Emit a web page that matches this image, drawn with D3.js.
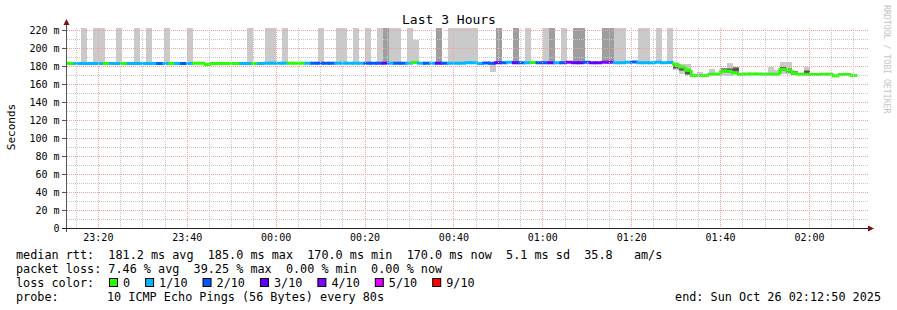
<!DOCTYPE html>
<html>
<head>
<meta charset="UTF-8">
<title>Last 3 Hours</title>
<script src="https://d3js.org/d3.v7.min.js"></script>
<style>
  body { margin: 0; background: #fff; }
  svg text { font-family: "DejaVu Sans Mono", monospace; }
</style>
</head>
<body>
<svg width="897" height="310"></svg>
<script>
// ---------- data ----------
const endTime = Date.UTC(2025, 9, 26, 2, 12, 50);
const stepSec = 80;

// median rtt per 80s step (ms)
const median = [
  184.0, 183.3, 183.3, 183.3, 183.3, 183.3, 183.3, 183.3, 183.3, 183.3,
  183.3, 183.3, 183.3, 183.3, 183.3, 183.3, 183.3, 183.3, 183.3, 183.3,
  183.3, 183.3, 183.5, 183.5, 182.3, 183.3, 183.3, 183.3, 183.3, 183.3,
  183.3, 183.3, 183.3, 183.3, 183.6, 183.6, 183.6, 183.6, 183.6, 183.6,
  183.6, 183.6, 183.6, 183.6, 183.6, 183.6, 183.6, 183.6, 183.6, 183.6,
  183.6, 183.6, 183.6, 183.6, 183.6, 183.6, 183.6, 183.6, 183.6, 184.4,
  183.6, 183.6, 183.6, 183.6, 183.6, 183.6, 183.6, 183.6, 184.3, 184.3,
  183.3, 183.8, 183.5, 184.3, 184.3, 184.6, 184.3, 184.3, 184.3, 184.5,
  184.3, 184.3, 184.3, 184.3, 184.3, 184.6, 184.3, 184.3, 184.6, 184.3,
  184.3, 184.6, 184.6, 184.3, 184.3, 184.6, 185.0, 184.3, 184.3, 184.3,
  184.6, 184.3, 184.4, 182.5, 179.5, 176.2, 170.0, 170.0, 170.0, 171.4,
  171.4, 174.8, 174.8, 172.8, 171.0, 171.7, 171.7, 171.7, 171.5, 171.5,
  171.5, 177.0, 176.0, 172.2, 171.4, 171.4, 171.0, 171.0, 171.3, 171.3,
  169.6, 171.0, 171.0, 170.0
];

// lost pings out of 10 per step
const loss = [
  0, 0, 1, 1, 1, 1, 1, 0, 1, 1,
  0, 1, 1, 1, 1, 1, 2, 1, 0, 1,
  2, 1, 0, 0, 0, 0, 0, 0, 0, 0,
  1, 1, 0, 1, 1, 1, 1, 1, 0, 0,
  0, 1, 2, 2, 2, 2, 1, 1, 1, 1,
  1, 2, 2, 2, 3, 1, 2, 2, 1, 0,
  1, 2, 1, 3, 2, 1, 1, 1, 1, 1,
  1, 2, 2, 3, 2, 1, 3, 2, 1, 0,
  2, 2, 3, 1, 2, 4, 3, 3, 2, 3,
  3, 4, 4, 1, 1, 1, 2, 1, 1, 1,
  1, 1, 1, 0, 0, 0, 0, 0, 0, 0,
  0, 0, 0, 0, 0, 0, 0, 0, 0, 0,
  0, 0, 0, 0, 0, 0, 0, 0, 0, 0,
  0, 0, 0, 0
];

// smoke (ping spread): [step, low ms, high ms]
const smokeLight = [
  [3, 183.3, 240], [5, 183.3, 240], [6, 183.3, 240], [9, 183.3, 240], [12, 183.3, 240],
  [14, 183.3, 240], [17, 183.3, 240], [21, 183.3, 240], [24, 180.5, 182.3], [26, 181.5, 183.3],
  [31, 183.3, 240], [34, 183.6, 240], [35, 183.6, 240], [37, 183.6, 240], [43, 183.6, 240],
  [46, 183.6, 240], [47, 183.6, 240], [49, 183.6, 240], [51, 183.6, 240], [53, 183.6, 240],
  [55, 183.6, 240], [56, 183.6, 240], [58, 183.6, 240], [59, 184.4, 209.5], [65, 183.6, 240],
  [66, 183.6, 240], [67, 183.6, 240], [68, 184.3, 240], [69, 184.3, 240], [72, 174.0, 183.5],
  [78, 184.3, 240], [81, 184.3, 240], [84, 184.3, 240], [93, 184.3, 240], [94, 184.3, 240],
  [97, 184.3, 240], [98, 184.3, 240], [100, 184.6, 240], [102, 184.4, 240],
  [103, 176.0, 183.0], [104, 172.0, 182.5], [105, 170.5, 182.5], [106, 170.0, 172.0],
  [107, 170.0, 174.0], [108, 170.0, 172.0], [109, 171.4, 177.0], [110, 171.4, 172.5],
  [111, 170.0, 178.0], [112, 170.0, 183.6], [113, 172.0, 180.0], [116, 171.7, 173.0],
  [117, 171.7, 173.0], [118, 171.5, 173.0], [119, 172.0, 179.0], [120, 171.5, 176.5],
  [121, 172.0, 184.8], [122, 172.0, 184.8], [123, 172.0, 174.5], [124, 171.4, 173.0],
  [125, 171.0, 180.0], [126, 171.0, 173.0], [127, 171.0, 172.5], [132, 171.0, 172.5]
];
const smokeDark = [
  [54, 183.6, 240], [63, 183.6, 240], [73, 184.3, 240], [76, 184.3, 240], [82, 184.3, 240],
  [86, 184.3, 240], [87, 184.3, 240], [91, 184.6, 240], [92, 184.6, 240],
  [103, 177.0, 182.0], [104, 175.0, 181.0], [105, 171.0, 175.0], [111, 174.8, 178.0],
  [112, 173.0, 178.0], [113, 173.3, 180.0], [121, 175.0, 180.0], [122, 173.0, 178.0],
  [123, 172.0, 174.5], [125, 171.4, 176.0]
];
// densest part of the smoke
const smokeCore = [
  [103, 178.0, 181.0], [104, 176.0, 178.5], [105, 171.5, 173.5], [112, 175.0, 177.0],
  [113, 175.0, 178.0], [121, 177.5, 179.0], [125, 173.0, 175.0]
];

const lossColors = ["#26ff00", "#00b8ff", "#0059ff", "#5e00ff", "#7e00ff", "#dd00ff", "#ff0000"];
const lossLabels = ["0", "1/10", "2/10", "3/10", "4/10", "5/10", "9/10"];
const lossThresholds = [0, 1, 2, 3, 4, 5, 9];

const yTickValues = [0, 20, 40, 60, 80, 100, 120, 140, 160, 180, 200, 220];

const legendRows = [
  "median rtt:  181.2 ms avg  185.0 ms max  170.0 ms min  170.0 ms now  5.1 ms sd  35.8   am/s",
  "packet loss: 7.46 % avg  39.25 % max  0.00 % min  0.00 % now"
];
const probeText = "10 ICMP Echo Pings (56 Bytes) every 80s";
const endText = "end: Sun Oct 26 02:12:50 2025";

// ---------- layout ----------
const svg = d3.select("svg");
const pLeft = 67, pRight = 866, pTop = 28, pBottom = 228.5;
const t1 = new Date(endTime);
const t0 = new Date(endTime - 3 * 3600 * 1000);
const dataStart = endTime - 3 * 3600 * 1000 - 40 * 1000;
const stepTime = k => new Date(dataStart + k * stepSec * 1000);

const x = d3.scaleTime().domain([t0, t1]).range([66, 866]);
const y = d3.scaleLinear().domain([0, 220]).range([228.5, 30.5]);

const colorOf = l => {
  let idx = 0;
  lossThresholds.forEach((t, i) => { if (l >= t) idx = i; });
  return lossColors[idx];
};

svg.append("clipPath").attr("id", "plot")
  .append("rect").attr("x", pLeft).attr("y", pTop)
  .attr("width", pRight - pLeft).attr("height", pBottom - pTop);

const plot = svg.append("g").attr("clip-path", "url(#plot)");

// smoke
function drawSmoke(data, fill) {
  plot.append("g").selectAll("rect").data(data).enter().append("rect")
    .attr("x", d => x(stepTime(d[0])))
    .attr("width", d => x(stepTime(d[0] + 1)) - x(stepTime(d[0])))
    .attr("y", d => y(d[2]))
    .attr("height", d => y(d[1]) - y(d[2]))
    .attr("fill", typeof fill === "function" ? fill : () => fill)
    .attr("shape-rendering", "crispEdges");
}
drawSmoke(smokeLight, "#cacaca");
drawSmoke(smokeDark, d => d[0] > 100 ? "#8a8a8a" : "#9e9e9e");
drawSmoke(smokeCore, "#555555");

// grid
const grid = svg.append("g").attr("shape-rendering", "crispEdges");
const minorY = d3.range(10, 221, 10).filter(v => v % 20 !== 0);
grid.selectAll(".hmin").data(minorY).enter().append("line")
  .attr("x1", pLeft).attr("x2", pRight + 2)
  .attr("y1", d => y(d)).attr("y2", d => y(d))
  .attr("stroke", "#c8c8c8").attr("stroke-dasharray", "1,1");
const minorX = d3.utcMinute.every(5).range(t0, t1).filter(d => d.getUTCMinutes() % 20 !== 0);
grid.selectAll(".vmin").data(minorX).enter().append("line")
  .attr("x1", d => Math.round(x(d)) + 0.5).attr("x2", d => Math.round(x(d)) + 0.5)
  .attr("y1", pTop).attr("y2", pBottom)
  .attr("stroke", "#c8c8c8").attr("stroke-dasharray", "1,1");
grid.selectAll(".hmaj").data(yTickValues.filter(v => v > 0)).enter().append("line")
  .attr("x1", pLeft).attr("x2", pRight + 2)
  .attr("y1", d => y(d)).attr("y2", d => y(d))
  .attr("stroke", "#f2a0a0").attr("stroke-dasharray", "1,1");
const majorX = d3.utcMinute.every(20).range(t0, t1);
grid.selectAll(".vmaj").data(majorX).enter().append("line")
  .attr("x1", d => Math.round(x(d)) + 0.5).attr("x2", d => Math.round(x(d)) + 0.5)
  .attr("y1", pTop).attr("y2", pBottom)
  .attr("stroke", "#f2a0a0").attr("stroke-dasharray", "1,1");

// median line, coloured by loss
const steps = median.map((m, k) => ({ k, m, l: loss[k] }));
plot.append("g").selectAll("line.v").data(steps.slice(1)).enter().append("line")
  .attr("x1", d => x(stepTime(d.k))).attr("x2", d => x(stepTime(d.k)))
  .attr("y1", d => y(median[d.k - 1])).attr("y2", d => y(d.m))
  .attr("stroke", d => colorOf(d.l)).attr("stroke-width", 3);
plot.append("g").selectAll("line.h").data(steps).enter().append("line")
  .attr("x1", d => x(stepTime(d.k)) - (d.k > 0 ? 1.5 : 0))
  .attr("x2", d => x(stepTime(d.k + 1)))
  .attr("y1", d => y(d.m)).attr("y2", d => y(d.m))
  .attr("stroke", d => colorOf(d.l)).attr("stroke-width", 3);

// axes
const yAxis = d3.axisLeft(y).tickValues(yTickValues).tickSize(0).tickPadding(7)
  .tickFormat(v => v === 0 ? "0" : v + " m");
const gy = svg.append("g").attr("transform", `translate(${pLeft - 0.5},0)`).call(yAxis);
gy.select(".domain").remove();
gy.selectAll("text").attr("font-size", 10).attr("fill", "#000")
  .style("font-family", "'DejaVu Sans Mono', monospace");

const xAxis = d3.axisBottom(x).ticks(d3.utcMinute.every(20)).tickSize(0).tickPadding(5)
  .tickFormat(d3.utcFormat("%H:%M"));
const gx = svg.append("g").attr("transform", `translate(0,${pBottom})`).call(xAxis);
gx.select(".domain").remove();
gx.selectAll("text").attr("font-size", 10).attr("fill", "#000")
  .style("font-family", "'DejaVu Sans Mono', monospace");

// tick marks
svg.append("g").selectAll("line").data(yTickValues).enter().append("line")
  .attr("x1", pLeft - 5).attr("x2", pLeft).attr("y1", d => y(d)).attr("y2", d => y(d))
  .attr("stroke", "#555").attr("shape-rendering", "crispEdges");

// axis lines with arrows
svg.append("line").attr("x1", pLeft - 0.5).attr("x2", pLeft - 0.5).attr("y1", pBottom + 3).attr("y2", 23)
  .attr("stroke", "#555").attr("shape-rendering", "crispEdges");
svg.append("line").attr("x1", pLeft - 5).attr("x2", 868).attr("y1", pBottom).attr("y2", pBottom)
  .attr("stroke", "#222").attr("shape-rendering", "crispEdges");
svg.append("path").attr("d", `M${pLeft - 3.5},25 L${pLeft + 2.5},25 L${pLeft - 0.5},19 Z`).attr("fill", "#7f1010");
svg.append("path").attr("d", `M868,${pBottom - 3} L868,${pBottom + 3} L874,${pBottom} Z`).attr("fill", "#7f1010");

// title, labels
svg.append("text").attr("x", 449).attr("y", 24).attr("text-anchor", "middle")
  .attr("font-size", 13).text("Last 3 Hours");
svg.append("text").attr("transform", "translate(15,127) rotate(-90)")
  .attr("text-anchor", "middle").attr("font-size", 11).text("Seconds");
svg.append("text").attr("transform", "translate(884,5) rotate(90)")
  .attr("font-size", 8.2).attr("fill", "#c4c4c4").text("RRDTOOL / TOBI OETIKER");

// legend
const legendFont = 11.8;
legendRows.forEach((row, i) => {
  svg.append("text").attr("x", 16).attr("y", 258.5 + i * 14)
    .attr("font-size", legendFont).attr("xml:space", "preserve")
    .style("white-space", "pre").text(row);
});
const lcRow = svg.append("g");
lcRow.append("text").attr("x", 16).attr("y", 286.5).attr("font-size", legendFont).text("loss color:");
let lx = 109;
lossLabels.forEach((lab, i) => {
  lcRow.append("rect").attr("x", lx + 0.5).attr("y", 278.5).attr("width", 8).attr("height", 8)
    .attr("fill", lossColors[i]).attr("stroke", "#000").attr("stroke-width", 1);
  const t = lcRow.append("text").attr("x", lx + 14).attr("y", 286.5).attr("font-size", legendFont).text(lab);
  lx = lx + 14 + t.node().getComputedTextLength() + 15;
});
svg.append("text").attr("x", 16).attr("y", 300.5).attr("font-size", legendFont).text("probe:");
svg.append("text").attr("x", 107).attr("y", 300.5).attr("font-size", legendFont).text(probeText);
svg.append("text").attr("x", 881).attr("y", 300.5).attr("text-anchor", "end")
  .attr("font-size", legendFont).text(endText);
</script>
</body>
</html>
